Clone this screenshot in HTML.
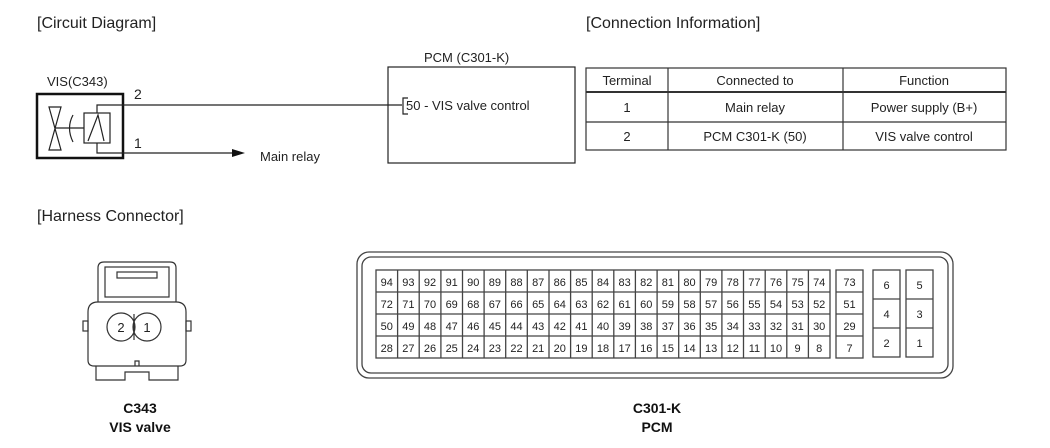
<!DOCTYPE html>
<html><head><meta charset="utf-8"><style>
html,body{margin:0;padding:0;background:#fff;}
svg{display:block;font-family:"Liberation Sans",sans-serif;}
</style></head><body>
<svg width="1050" height="448" viewBox="0 0 1050 448" xmlns="http://www.w3.org/2000/svg">
<g fill="#222" font-size="16">
<text x="37" y="28">[Circuit Diagram]</text>
<text x="586" y="28">[Connection Information]</text>
<text x="37" y="221">[Harness Connector]</text>
</g>
<!-- VIS -->
<text x="47" y="86" font-size="13" fill="#222">VIS(C343)</text>
<rect x="37" y="94" width="86" height="64" fill="none" stroke="#111" stroke-width="2.5"/>
<path d="M49 107 L61 107 L49 150 L61 150 Z" fill="none" stroke="#222" stroke-width="1.2"/>
<line x1="55" y1="128" x2="84" y2="128" stroke="#222" stroke-width="1.2"/>
<path d="M73 115 Q66 128 73 142" fill="none" stroke="#222" stroke-width="1.2"/>
<rect x="84" y="113" width="26" height="30" fill="none" stroke="#222" stroke-width="1.2"/>
<path d="M88 141 L98 115 L104 141" fill="none" stroke="#222" stroke-width="1.2"/>
<path d="M97 113 L97 105 L402 105" fill="none" stroke="#222" stroke-width="1.2"/>
<path d="M97 143 L97 153 L232 153" fill="none" stroke="#222" stroke-width="1.2"/>
<path d="M232 149 L245 153 L232 157 Z" fill="#111"/>
<text x="134" y="99" font-size="14" fill="#222">2</text>
<text x="134" y="148" font-size="14" fill="#222">1</text>
<text x="260" y="161" font-size="13" fill="#222">Main relay</text>
<!-- PCM -->
<text x="424" y="62" font-size="13" fill="#222">PCM (C301-K)</text>
<rect x="388" y="67" width="187" height="96" fill="none" stroke="#222" stroke-width="1.2"/>
<path d="M408 98 L403 98 L403 114 L408 114" fill="none" stroke="#222" stroke-width="1.2"/>
<text x="406" y="110" font-size="13" fill="#222">50 - VIS valve control</text>
<!-- Table -->
<g stroke="#333" stroke-width="1.2" fill="none">
<rect x="586" y="68" width="420" height="82"/>
<line x1="586" y1="92" x2="1006" y2="92" stroke-width="2"/>
<line x1="586" y1="122" x2="1006" y2="122"/>
<line x1="668" y1="68" x2="668" y2="150"/>
<line x1="843" y1="68" x2="843" y2="150"/>
</g>
<g font-size="13" fill="#222" text-anchor="middle">
<text x="627" y="85">Terminal</text><text x="755" y="85">Connected to</text><text x="924" y="85">Function</text>
<text x="627" y="112">1</text><text x="755" y="112">Main relay</text><text x="924" y="112">Power supply (B+)</text>
<text x="627" y="141">2</text><text x="755" y="141">PCM C301-K (50)</text><text x="924" y="141">VIS valve control</text>
</g>
<!-- small connector -->
<g fill="none" stroke="#333" stroke-width="1.2">
<path d="M98 302 L98 268 Q98 262 104 262 L170 262 Q176 262 176 268 L176 302"/>
<rect x="105" y="267" width="64" height="30"/>
<rect x="117" y="272" width="40" height="6"/>
<path d="M88 312 Q88 302 98 302 L176 302 Q186 302 186 312 L186 360 Q186 366 180 366 L94 366 Q88 366 88 360 Z"/>
<rect x="83" y="321" width="5" height="10"/>
<rect x="186" y="321" width="5" height="10"/>
<path d="M96 366 L96 380 L125 380 L125 372 L149 372 L149 380 L178 380 L178 366"/>
<path d="M135 366 L135 361 L139 361 L139 366"/>
<circle cx="121" cy="327" r="14"/>
<circle cx="147" cy="327" r="14"/>
<line x1="134" y1="314" x2="134" y2="340"/>
</g>
<text x="121" y="332" font-size="13" text-anchor="middle" fill="#222">2</text>
<text x="147" y="332" font-size="13" text-anchor="middle" fill="#222">1</text>
<g font-size="14" font-weight="bold" text-anchor="middle" fill="#111">
<text x="140" y="413">C343</text><text x="140" y="432">VIS valve</text>
<text x="657" y="413">C301-K</text><text x="657" y="432">PCM</text>
</g>
<!-- PCM connector -->
<g fill="none" stroke="#444" stroke-width="1.3">
<rect x="357" y="252" width="596" height="126" rx="12"/>
<rect x="362" y="257" width="586" height="116" rx="9"/>
<rect x="376" y="270" width="454" height="88"/>
<line x1="376" y1="292" x2="830" y2="292"/><line x1="376" y1="314" x2="830" y2="314"/><line x1="376" y1="336" x2="830" y2="336"/>
<line x1="397.6" y1="270" x2="397.6" y2="358"/><line x1="419.2" y1="270" x2="419.2" y2="358"/><line x1="440.9" y1="270" x2="440.9" y2="358"/><line x1="462.5" y1="270" x2="462.5" y2="358"/><line x1="484.1" y1="270" x2="484.1" y2="358"/><line x1="505.7" y1="270" x2="505.7" y2="358"/><line x1="527.3" y1="270" x2="527.3" y2="358"/><line x1="549" y1="270" x2="549" y2="358"/><line x1="570.6" y1="270" x2="570.6" y2="358"/><line x1="592.2" y1="270" x2="592.2" y2="358"/><line x1="613.8" y1="270" x2="613.8" y2="358"/><line x1="635.4" y1="270" x2="635.4" y2="358"/><line x1="657.1" y1="270" x2="657.1" y2="358"/><line x1="678.7" y1="270" x2="678.7" y2="358"/><line x1="700.3" y1="270" x2="700.3" y2="358"/><line x1="721.9" y1="270" x2="721.9" y2="358"/><line x1="743.5" y1="270" x2="743.5" y2="358"/><line x1="765.2" y1="270" x2="765.2" y2="358"/><line x1="786.8" y1="270" x2="786.8" y2="358"/><line x1="808.4" y1="270" x2="808.4" y2="358"/>
<rect x="836" y="270" width="27" height="88"/>
<line x1="836" y1="292" x2="863" y2="292"/><line x1="836" y1="314" x2="863" y2="314"/><line x1="836" y1="336" x2="863" y2="336"/>
<rect x="873" y="270" width="27" height="87"/>
<line x1="873" y1="299" x2="900" y2="299"/><line x1="873" y1="328" x2="900" y2="328"/>
<rect x="906" y="270" width="27" height="87"/>
<line x1="906" y1="299" x2="933" y2="299"/><line x1="906" y1="328" x2="933" y2="328"/>
</g>
<g font-size="11" fill="#222" text-anchor="middle">
<g transform="translate(0,286)"><text x="386.8">94</text><text x="408.4">93</text><text x="430">92</text><text x="451.7">91</text><text x="473.3">90</text><text x="494.9">89</text><text x="516.5">88</text><text x="538.2">87</text><text x="559.8">86</text><text x="581.4">85</text><text x="603">84</text><text x="624.6">83</text><text x="646.3">82</text><text x="667.9">81</text><text x="689.5">80</text><text x="711.1">79</text><text x="732.8">78</text><text x="754.4">77</text><text x="776">76</text><text x="797.6">75</text><text x="819.2">74</text><text x="849.5">73</text></g>
<g transform="translate(0,308)"><text x="386.8">72</text><text x="408.4">71</text><text x="430">70</text><text x="451.7">69</text><text x="473.3">68</text><text x="494.9">67</text><text x="516.5">66</text><text x="538.2">65</text><text x="559.8">64</text><text x="581.4">63</text><text x="603">62</text><text x="624.6">61</text><text x="646.3">60</text><text x="667.9">59</text><text x="689.5">58</text><text x="711.1">57</text><text x="732.8">56</text><text x="754.4">55</text><text x="776">54</text><text x="797.6">53</text><text x="819.2">52</text><text x="849.5">51</text></g>
<g transform="translate(0,330)"><text x="386.8">50</text><text x="408.4">49</text><text x="430">48</text><text x="451.7">47</text><text x="473.3">46</text><text x="494.9">45</text><text x="516.5">44</text><text x="538.2">43</text><text x="559.8">42</text><text x="581.4">41</text><text x="603">40</text><text x="624.6">39</text><text x="646.3">38</text><text x="667.9">37</text><text x="689.5">36</text><text x="711.1">35</text><text x="732.8">34</text><text x="754.4">33</text><text x="776">32</text><text x="797.6">31</text><text x="819.2">30</text><text x="849.5">29</text></g>
<g transform="translate(0,352)"><text x="386.8">28</text><text x="408.4">27</text><text x="430">26</text><text x="451.7">25</text><text x="473.3">24</text><text x="494.9">23</text><text x="516.5">22</text><text x="538.2">21</text><text x="559.8">20</text><text x="581.4">19</text><text x="603">18</text><text x="624.6">17</text><text x="646.3">16</text><text x="667.9">15</text><text x="689.5">14</text><text x="711.1">13</text><text x="732.8">12</text><text x="754.4">11</text><text x="776">10</text><text x="797.6">9</text><text x="819.2">8</text><text x="849.5">7</text></g>
<text x="886.5" y="289">6</text><text x="919.5" y="289">5</text>
<text x="886.5" y="318">4</text><text x="919.5" y="318">3</text>
<text x="886.5" y="347">2</text><text x="919.5" y="347">1</text>
</g>
</svg>
</body></html>
